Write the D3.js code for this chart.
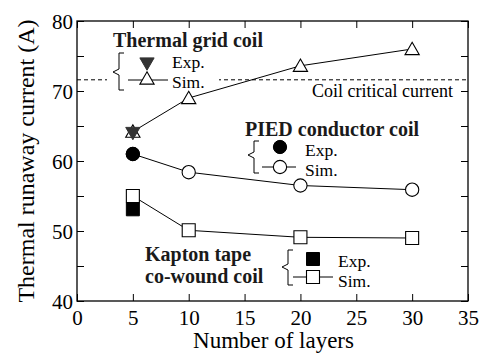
<!DOCTYPE html>
<html>
<head>
<meta charset="utf-8">
<script src="https://cdn.jsdelivr.net/npm/d3@7"></script>
<style>
  body { margin: 0; background: #fff; }
</style>
</head>
<body>
<div id="chart"></div>
<script>
// thermal runaway current vs number of layers, three coil types
var layers = [5, 10, 20, 30],
    gridSim = [64.2, 69.0, 73.6, 76.0],
    gridExp = [[5, 64.0]],
    piedSim = [61.0, 58.4, 56.5, 55.9],
    piedExp = [[5, 61.0]],
    kaptonSim = [55.0, 50.1, 49.1, 49.0],
    kaptonExp = [[5, 53.1]],
    criticalCurrent = 71.6,
    xTicks = [0, 5, 10, 15, 20, 25, 30, 35],
    yTicks = [40, 45, 50, 55, 60, 65, 70, 75, 80];

var serif = "'Liberation Serif', 'Times New Roman', serif";
var width = 484, height = 354,
    margin = {top: 21, right: 16, bottom: 53, left: 77},
    tick = 7;

var svg = d3.select("#chart").append("svg")
    .attr("width", width).attr("height", height)
    .attr("font-family", serif);

var x = d3.scaleLinear().domain([0, 35]).range([margin.left, width - margin.right]);
var y = d3.scaleLinear().domain([40, 80]).range([height - margin.bottom, margin.top]);

function styleAxis(g) {
  g.attr("font-family", serif);
  g.select(".domain").remove();
  g.selectAll(".tick line").attr("stroke", "#000").attr("stroke-width", 1);
  g.selectAll(".tick text").attr("font-size", 21).attr("fill", "#000");
}

// axes, ticks pointing inward
svg.append("g").attr("transform", "translate(0," + y(40) + ")")
  .call(d3.axisBottom(x).tickValues(xTicks).tickSize(-tick).tickPadding(5))
  .call(styleAxis)
  .selectAll(".tick text").attr("dy", "0.9em");
svg.append("g").attr("transform", "translate(0," + y(80) + ")")
  .call(d3.axisTop(x).tickValues(xTicks).tickSize(-tick).tickFormat(""))
  .call(styleAxis);
svg.append("g").attr("transform", "translate(" + x(0) + ",0)")
  .call(d3.axisLeft(y).tickValues(yTicks).tickSize(-tick).tickPadding(4)
    .tickFormat(d => d % 10 === 0 ? d : ""))
  .call(styleAxis)
  .selectAll(".tick text").attr("dy", "0.36em");
svg.append("g").attr("transform", "translate(" + x(35) + ",0)")
  .call(d3.axisRight(y).tickValues(yTicks).tickSize(-tick).tickFormat(""))
  .call(styleAxis);

svg.append("rect")
  .attr("x", x(0)).attr("y", y(80))
  .attr("width", x(35) - x(0)).attr("height", y(40) - y(80))
  .attr("fill", "none").attr("stroke", "#000").attr("stroke-width", 1.3);

// axis titles
svg.append("text")
  .attr("x", (x(0) + x(35)) / 2 + 1).attr("y", 348)
  .attr("text-anchor", "middle").attr("font-size", 23)
  .text("Number of layers");
svg.append("text")
  .attr("transform", "translate(34," + ((y(40) + y(80)) / 2) + ") rotate(-90)")
  .attr("text-anchor", "middle").attr("font-size", 24)
  .text("Thermal runaway current (A)");

// critical current line
svg.append("line")
  .attr("x1", x(0)).attr("x2", x(35))
  .attr("y1", y(criticalCurrent)).attr("y2", y(criticalCurrent))
  .attr("stroke", "#000").attr("stroke-width", 1).attr("stroke-dasharray", "4,3");
svg.append("text")
  .attr("x", 453).attr("y", y(criticalCurrent) + 17)
  .attr("text-anchor", "end").attr("font-size", 18)
  .text("Coil critical current");

var line = d3.line().x(d => x(d[0])).y(d => y(d[1]));
var sym = {
  up: d3.symbol().type(d3.symbolTriangle).size(88),
  circle: d3.symbol().type(d3.symbolCircle).size(138),
  square: d3.symbol().type(d3.symbolSquare).size(169)
};

function series(vals, shape) {
  var pts = layers.map((l, i) => [l, vals[i]]);
  svg.append("path").datum(pts).attr("d", line)
    .attr("fill", "none").attr("stroke", "#000").attr("stroke-width", 1);
  svg.selectAll(null).data(pts).join("path")
    .attr("transform", d => "translate(" + x(d[0]) + "," + (y(d[1]) + (shape === "up" ? 1.5 : 0)) + ")")
    .attr("d", sym[shape]())
    .attr("fill", "#fff").attr("stroke", "#000").attr("stroke-width", 1.1);
}
function exp(pts, shape, color) {
  svg.selectAll(null).data(pts).join("path")
    .attr("transform", d => "translate(" + x(d[0]) + "," + (y(d[1]) + (shape === "up" ? -1.5 : 0)) + ")" +
      (shape === "up" ? " rotate(180)" : ""))
    .attr("d", sym[shape]())
    .attr("fill", color).attr("stroke", color).attr("stroke-width", 1);
}

series(gridSim, "up");
series(piedSim, "circle");
series(kaptonSim, "square");
exp(gridExp, "up", "#333");
exp(piedExp, "circle", "#000");
exp(kaptonExp, "square", "#000");

// legends
function brace(tipX, x0, x1, top, mid, bottom) {
  var p = d3.path();
  p.moveTo(x1, top); p.lineTo(x0, top); p.lineTo(x0, mid - 3);
  p.lineTo(tipX, mid); p.lineTo(x0, mid + 3); p.lineTo(x0, bottom); p.lineTo(x1, bottom);
  svg.append("path").attr("d", p.toString())
    .attr("fill", "none").attr("stroke", "#000").attr("stroke-width", 1);
}
function legend(o) {
  if (o.mask) {
    svg.append("rect").attr("x", o.mask[0]).attr("y", o.mask[1])
      .attr("width", o.mask[2]).attr("height", o.mask[3]).attr("fill", "#fff");
  }
  o.title.forEach((t, i) => {
    svg.append("text").attr("x", o.tx).attr("y", o.ty + i * 22)
      .attr("font-size", 20).attr("font-weight", "bold").attr("fill", "#1a1a1a").text(t);
  });
  brace(o.bx, o.bx + 6, o.bx + 11, o.by0, o.bym, o.by1);
  svg.append("line").attr("x1", o.lx0).attr("x2", o.lx1)
    .attr("y1", o.simY).attr("y2", o.simY).attr("stroke", "#000").attr("stroke-width", 1);
  svg.append("path")
    .attr("transform", "translate(" + o.mx + "," + o.simY + ")")
    .attr("d", sym[o.shape]()).attr("fill", "#fff").attr("stroke", "#000").attr("stroke-width", 1.1);
  svg.append("path")
    .attr("transform", "translate(" + o.mx + "," + o.expY + ")" + (o.shape === "up" ? " rotate(180)" : ""))
    .attr("d", sym[o.shape]()).attr("fill", o.expColor).attr("stroke", o.expColor);
  svg.append("text").attr("x", o.labX).attr("y", o.expBase).attr("font-size", 17.5).text("Exp.");
  svg.append("text").attr("x", o.labX).attr("y", o.expBase + 20).attr("font-size", 17.5).text("Sim.");
}

legend({title: ["Thermal grid coil"], tx: 113, ty: 47, mask: [107, 72, 112, 16],
  bx: 113, by0: 53, bym: 72, by1: 90, lx0: 128, lx1: 168, mx: 147,
  expY: 62, simY: 80, shape: "up", expColor: "#333", labX: 172, expBase: 68});
legend({title: ["PIED conductor coil"], tx: 245, ty: 136,
  bx: 248, by0: 141, bym: 155, by1: 173, lx0: 262, lx1: 296, mx: 280,
  expY: 147, simY: 167, shape: "circle", expColor: "#000", labX: 305, expBase: 156});
legend({title: ["Kapton tape", "co-wound coil"], tx: 145, ty: 261,
  bx: 282, by0: 250, bym: 267, by1: 285, lx0: 293, lx1: 333, mx: 313,
  expY: 259, simY: 277, shape: "square", expColor: "#000", labX: 338, expBase: 267});
</script>
</body>
</html>
